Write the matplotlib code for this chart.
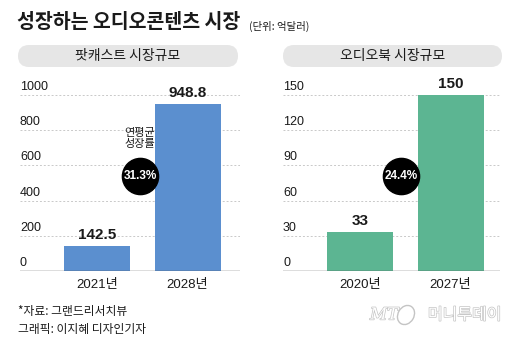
import matplotlib

matplotlib.use("Agg")
import matplotlib.pyplot as plt
import matplotlib.patheffects as pe
from matplotlib.patches import Ellipse, FancyBboxPatch

plt.rcParams["font.family"] = ["Liberation Sans", "Noto Sans CJK KR", "DejaVu Sans"]

# data
title = "성장하는 오디오콘텐츠 시장"
unit = "(단위: 억달러)"

podcast_title = "팟캐스트 시장규모"
podcast_years = ["2021년", "2028년"]
podcast_values = [142.5, 948.8]
podcast_ticks = [0, 200, 400, 600, 800, 1000]
podcast_cagr = "31.3%"

audiobook_title = "오디오북 시장규모"
audiobook_years = ["2020년", "2027년"]
audiobook_values = [33, 150]
audiobook_ticks = [0, 30, 60, 90, 120, 150]
audiobook_cagr = "24.4%"

cagr_label = "연평균\n성장률"
source = "*자료: 그랜드리서치뷰"
credit = "그래픽: 이지혜 디자인기자"

W, H = 520, 343
BLUE = "#5b8fcf"
GREEN = "#5cb592"
PILL = "#e6e6e6"
TEXT = "#1a1a1a"
KR = "Noto Sans CJK KR"

fig = plt.figure(figsize=(W / 100, H / 100), dpi=100)
fig.patch.set_facecolor("white")

# background axes in pixel units for title, pills, footer
bg = fig.add_axes([0, 0, 1, 1], zorder=0)
bg.set_xlim(0, W)
bg.set_ylim(H, 0)
bg.axis("off")

bg.text(17, 23, title, fontsize=14, fontweight="black", color=TEXT,
        ha="left", va="center", family=KR)
bg.text(249, 26, unit, fontsize=7.5, color=TEXT, ha="left", va="center",
        family=KR)


def pill(x0, x1, label):
    bg.add_patch(FancyBboxPatch((x0, 45), x1 - x0, 22,
                                boxstyle="round,pad=0,rounding_size=11",
                                fc=PILL, ec="none"))
    bg.text((x0 + x1) / 2, 56, label, fontsize=10, color=TEXT,
            ha="center", va="center", family=KR)


pill(18, 238, podcast_title)
pill(283, 502, audiobook_title)


def panel(left_px, width_px, years, values, ticks, color, cagr, show_cagr_label):
    top_px, base_px = 95, 271
    ax = fig.add_axes([left_px / W, 1 - base_px / H, width_px / W,
                       (base_px - top_px) / H], zorder=1)
    ax.patch.set_alpha(0)
    ax.set_ylim(0, ticks[-1])
    spacing = 90.5
    first = 77
    ax.set_xlim(-first / spacing, 1 + (width_px - first - spacing) / spacing)

    for t in ticks[1:]:
        ax.axhline(t, color="#c9c9c9", lw=0.7, ls=(0, (2, 2)), zorder=0)
    for t in ticks:
        ax.annotate(str(t), xy=(0, t), xycoords=("axes fraction", "data"),
                    xytext=(0, 1.5), textcoords="offset points",
                    ha="left", va="bottom", fontsize=9, color=TEXT)
    ax.axhline(0, color="#555555", lw=1.0, zorder=3)

    xs = range(len(values))
    ax.bar(xs, values, width=66 / spacing, color=color, zorder=2)
    for x, v in zip(xs, values):
        ax.annotate(f"{v:g}", xy=(x, v), xytext=(0, 3), textcoords="offset points",
                    ha="center", va="bottom", fontsize=11, fontweight="bold",
                    color=TEXT)

    ax.set_xticks(list(xs))
    ax.set_xticklabels(years, fontsize=9.5, color=TEXT)
    ax.tick_params(axis="x", length=0, pad=6)
    ax.set_yticks([])
    for s in ax.spines.values():
        s.set_visible(False)

    cx, cy = 0.545, 0.54
    ax.scatter([cx], [cy], s=680, color="black", transform=ax.transAxes,
               zorder=4, clip_on=False)
    ax.text(cx, cy, cagr, transform=ax.transAxes, ha="center", va="center",
            fontsize=8.5, fontweight="bold", color="white", zorder=5)
    if show_cagr_label:
        ax.text(cx, cy + 0.155, cagr_label, transform=ax.transAxes,
                ha="center", va="bottom", fontsize=8, color=TEXT,
                linespacing=1.05, family=KR, zorder=5)
    return ax


panel(20, 220, podcast_years, podcast_values, podcast_ticks, BLUE, podcast_cagr, True)
panel(283, 217, audiobook_years, audiobook_values, audiobook_ticks, GREEN, audiobook_cagr, False)

bg.text(18, 311, source, fontsize=8.5, color=TEXT, ha="left", va="center",
        family=[KR, "DejaVu Sans"])
bg.text(18, 329, credit, fontsize=8.5, color=TEXT, ha="left", va="center",
        family=KR)

# faint outlined watermark
outline = [pe.Stroke(linewidth=1.0, foreground="#c4c4c4"), pe.Normal()]
bg.text(370, 315, "MT", fontsize=12, style="italic", color="white",
        ha="left", va="center", family="DejaVu Serif", path_effects=outline)
bg.add_patch(Ellipse((406, 315), 16, 20, angle=30,
                     fc="white", ec="#c4c4c4", lw=1.0))
bg.text(428, 315, "머니투데이", fontsize=11.5, color="white", ha="left",
        va="center", family=KR, path_effects=outline)

fig.savefig("out.png", dpi=100)
